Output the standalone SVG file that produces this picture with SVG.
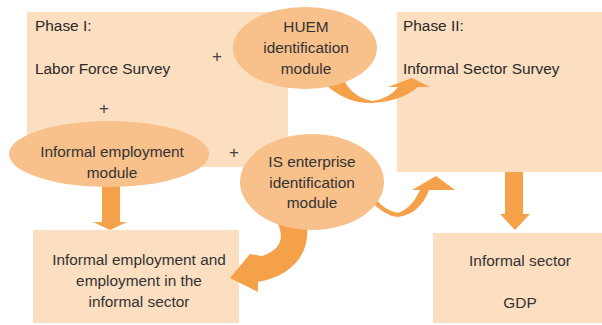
<svg xmlns="http://www.w3.org/2000/svg" width="602" height="325" viewBox="0 0 602 325">
<style>
.box{fill:#FCDEC0;}
.ell{fill:#F8C08A;}
.arr{fill:#F5A14A;}
text{font-family:"Liberation Sans",Arial,sans-serif;font-size:15.4px;fill:#333333;}
.c{text-anchor:middle;}
.h{fill:#2a2a2a;}
.plus{font-size:17px;text-anchor:middle;fill:#444444;}
</style>
<rect width="602" height="325" fill="#ffffff"/>
<g id="phase1">
<rect class="box" x="27" y="12" width="261" height="155"/>
<text class="h" x="35" y="31">Phase I:</text>
<text class="h" x="35" y="74">Labor Force Survey</text>
<text class="plus" x="217" y="62">+</text>
<text class="plus" x="104" y="114">+</text>
</g>
<g id="phase2">
<rect class="box" x="397" y="12" width="205" height="160"/>
<text class="h" x="403" y="31">Phase II:</text>
<text class="h" x="403" y="74">Informal Sector Survey</text>
</g>
<g id="ie-output">
<rect class="box" x="33" y="230" width="206" height="93"/>
<text class="c" x="139" y="265">Informal employment and</text>
<text class="c" x="139" y="286">employment in the</text>
<text class="c" x="139" y="307">informal sector</text>
</g>
<g id="is-output">
<rect class="box" x="433" y="233" width="169" height="90"/>
<text class="c" x="520" y="266">Informal sector</text>
<text class="c" x="520" y="308">GDP</text>
</g>
<g id="connectors">
<path class="arr" d="M327 86 Q348 104 373 103 Q402 101 418 87 L430 87 L412 78 L388 87 L398 87 Q390 98 373 101 Q354 98 345 82 Z"/>
<path class="arr" d="M370 200 Q384 216 398 217 Q420 214 429 190 L455 190 L436 176 L412 190 L420 190 Q412 208 398 213 Q385 211 375 198 Z"/>
<path class="arr" d="M277 222 C284 236 283 249 262 256 L250 254 L230 278 L258 292 L258 282 C291 276 310 255 307 226 Z"/>
<path class="arr" d="M102 185 H120 V222 H127 L110 230 L93 222 H102 Z"/>
<path class="arr" d="M505 172 H523 V214 H530 L515 230 L500 214 H505 Z"/>
</g>
<g id="huem">
<ellipse class="ell" cx="305" cy="48" rx="72" ry="41"/>
<text class="c" x="306" y="32">HUEM</text>
<text class="c" x="306" y="53">identification</text>
<text class="c" x="306" y="74">module</text>
</g>
<g id="ie-module">
<ellipse class="ell" cx="109" cy="154" rx="100" ry="33"/>
<text class="c" x="112" y="157">Informal employment</text>
<text class="c" x="112" y="178">module</text>
</g>
<g id="plus3">
<text class="plus" x="234" y="158">+</text>
</g>
<g id="is-module">
<ellipse class="ell" cx="312" cy="182" rx="72" ry="48"/>
<text class="c" x="312" y="167">IS enterprise</text>
<text class="c" x="312" y="188">identification</text>
<text class="c" x="312" y="208">module</text>
</g>
</svg>
